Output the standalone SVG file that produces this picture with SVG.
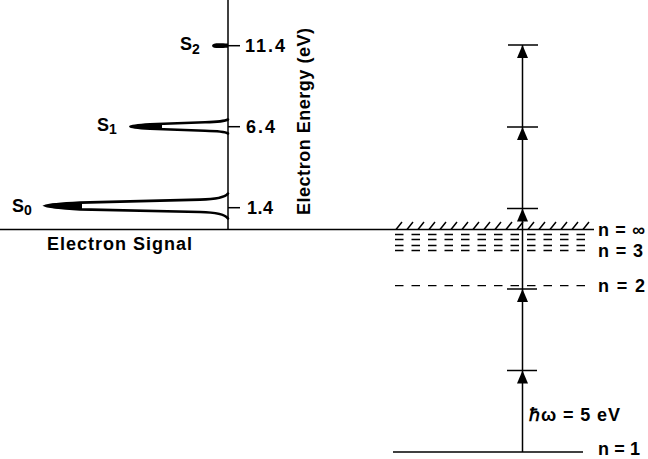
<svg xmlns="http://www.w3.org/2000/svg" width="648" height="459" viewBox="0 0 648 459">
<defs>
<style>
.t{font-family:"Liberation Sans",Arial,sans-serif;font-weight:bold;font-size:18px;fill:#000}
.ln{stroke:#000;stroke-width:1.5;fill:none}
.dash{stroke:#000;stroke-width:1.3;fill:none;stroke-dasharray:8.5 8}
.pk{stroke:#000;stroke-width:2.6;fill:none;stroke-linecap:round}
.tick{stroke:#000;stroke-width:1.5}
.ah{fill:#000}
</style>
</defs>
<rect width="648" height="459" fill="#fff"/>

<g id="spectrum-axes">
<line class="ln" x1="228" y1="0" x2="228" y2="229.5"/>
<line class="ln" x1="0" y1="229.5" x2="594" y2="229.5"/>
<line class="tick" x1="228" y1="45.7" x2="240" y2="45.7"/>
<line class="tick" x1="228" y1="126.7" x2="240" y2="126.7"/>
<line class="tick" x1="228" y1="207.7" x2="240" y2="207.7"/>
<text class="t" x="245" y="52" textLength="40" lengthAdjust="spacing">11.4</text>
<text class="t" x="246" y="133" textLength="29" lengthAdjust="spacing">6.4</text>
<text class="t" x="247" y="214" textLength="26" lengthAdjust="spacing">1.4</text>
<text class="t" x="47" y="250" textLength="145" lengthAdjust="spacing">Electron Signal</text>
<text class="t" transform="translate(310,215) rotate(-90)" x="0" y="0" textLength="187" lengthAdjust="spacing">Electron Energy (eV)</text>
</g>

<g id="peak-S2">
<path d="M212 45.7 C212.5 42.8 218 43.2 228 43.6 L228 47.8 C218 48.2 212.5 48.6 212 45.7 Z" fill="#000"/>
<text class="t" x="180" y="50">S<tspan font-size="14" dy="3.5">2</tspan></text>
</g>

<g id="peak-S1">
<path class="pk" d="M228 119.5 Q224 121.8 205 122.2 L150 124.3 Q131 125.6 130.5 126.6 Q131 127.8 150 128.8 L205 130.8 Q224 131.2 228 133.5"/>
<path d="M129.5 126.6 Q134 124.3 162 124 L162 129.2 Q134 128.9 129.5 126.6 Z" fill="#000"/>
<text class="t" x="97" y="130.5">S<tspan font-size="14" dy="3.5">1</tspan></text>
</g>

<g id="peak-S0">
<path class="pk" d="M228 193.5 Q224 199 200 199.6 L80 202.6 Q50 204.3 46 205.8 Q50 207.4 80 209.4 L200 212 Q224 212.6 228 218.5"/>
<path d="M44.5 205.8 Q50 202.6 82 202.2 L82 209.8 Q50 209.2 44.5 205.8 Z" fill="#000"/>
<text class="t" x="12" y="211.7">S<tspan font-size="14" dy="3.5">0</tspan></text>
</g>

<g id="level-ninf">
<path class="ln" stroke-width="1.1" d="M396 229.5 l6 -7.5 M407 229.5 l6 -7.5 M418 229.5 l6 -7.5 M429 229.5 l6 -7.5 M440 229.5 l6 -7.5 M451 229.5 l6 -7.5 M462 229.5 l6 -7.5 M473 229.5 l6 -7.5 M484 229.5 l6 -7.5 M495 229.5 l6 -7.5 M506 229.5 l6 -7.5 M517 229.5 l6 -7.5 M528 229.5 l6 -7.5 M539 229.5 l6 -7.5 M550 229.5 l6 -7.5 M561 229.5 l6 -7.5 M572 229.5 l6 -7.5 M583 229.5 l6 -7.5"/>
<text class="t" x="598" y="236" textLength="47" lengthAdjust="spacing">n = ∞</text>
</g>

<g id="level-rydberg">
<line class="dash" x1="395" y1="234.5" x2="592" y2="234.5"/>
<line class="dash" x1="395" y1="239.5" x2="592" y2="239.5"/>
<line class="dash" x1="395" y1="245.5" x2="592" y2="245.5"/>
<line class="dash" x1="395" y1="250.5" x2="592" y2="250.5"/>
<text class="t" x="598" y="257" textLength="45" lengthAdjust="spacing">n = 3</text>
</g>

<g id="level-n2">
<line class="dash" x1="395" y1="285.7" x2="592" y2="285.7"/>
<text class="t" x="598" y="292" textLength="47" lengthAdjust="spacing">n = 2</text>
</g>

<g id="level-n1">
<line class="ln" x1="393" y1="452" x2="583" y2="452"/>
<text class="t" x="598" y="454.5" textLength="42" lengthAdjust="spacing">n = 1</text>
</g>

<g id="photon-ladder">
<line class="ln" x1="522.5" y1="452" x2="522.5" y2="45"/>
<line class="tick" x1="508" y1="45" x2="538" y2="45"/>
<line class="tick" x1="507" y1="127" x2="538" y2="127"/>
<line class="tick" x1="507" y1="208.5" x2="538" y2="208.5"/>
<line class="tick" x1="507" y1="289" x2="537" y2="289"/>
<line class="tick" x1="507" y1="370.5" x2="537" y2="370.5"/>
<path class="ah" d="M522.5 45 l5.5 13 h-11 Z"/>
<path class="ah" d="M522.5 127 l5.5 13 h-11 Z"/>
<path class="ah" d="M522.5 208.5 l5.5 13 h-11 Z"/>
<path class="ah" d="M522.5 289 l5.5 13 h-11 Z"/>
<path class="ah" d="M522.5 370.5 l5.5 13 h-11 Z"/>
<text class="t" x="529" y="421" textLength="91" lengthAdjust="spacing">ℏω = 5 eV</text>
</g>
</svg>
